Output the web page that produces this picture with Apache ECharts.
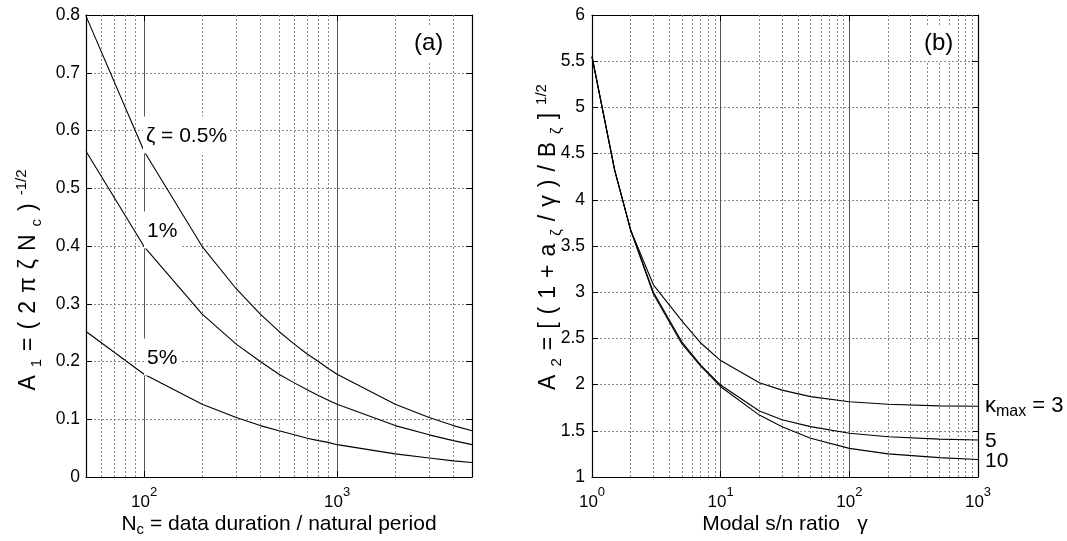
<!DOCTYPE html>
<html><head><meta charset="utf-8">
<script src="https://cdn.jsdelivr.net/npm/echarts@6/dist/echarts.min.js"></script>
<style>html,body{margin:0;padding:0;background:#fff}#c{width:1067px;height:541px}</style>
</head><body><div id="c"></div>
<script>
const FONT = '"Liberation Sans", Arial, Helvetica, sans-serif';

// ---- Panel (a): A1 vs Nc ----
const nCycles = [50, 100, 200, 300, 400, 500, 600, 700, 800, 900, 1000, 2000, 3000, 4000, 5000];
const a1Zeta05 = [0.798, 0.564, 0.399, 0.326, 0.282, 0.252, 0.230, 0.213, 0.200, 0.188, 0.178, 0.126, 0.103, 0.089, 0.080];
const a1Zeta1  = [0.564, 0.399, 0.282, 0.230, 0.200, 0.178, 0.163, 0.151, 0.141, 0.133, 0.126, 0.089, 0.073, 0.063, 0.056];
const a1Zeta5  = [0.252, 0.178, 0.126, 0.103, 0.089, 0.080, 0.073, 0.067, 0.063, 0.060, 0.056, 0.040, 0.033, 0.028, 0.025];
const aMinorGridX = [60, 70, 80, 90, 200, 300, 400, 500, 600, 700, 800, 900, 2000, 3000, 4000];

// ---- Panel (b): A2 vs gamma ----
const gammaVals = [1, 1.5, 2, 3, 5, 7, 10, 20, 30, 50, 100, 200, 500, 1000];
const a2Kappa3  = [5.55, 4.32, 3.67, 3.08, 2.69, 2.45, 2.26, 2.02, 1.94, 1.87, 1.815, 1.787, 1.77, 1.765];
const a2Kappa5  = [5.55, 4.32, 3.67, 3.00, 2.46, 2.21, 1.995, 1.714, 1.62, 1.545, 1.473, 1.436, 1.41, 1.40];
const a2Kappa10 = [5.55, 4.32, 3.67, 2.98, 2.44, 2.20, 1.977, 1.67, 1.545, 1.42, 1.31, 1.25, 1.21, 1.19];
const bMinorGridX = [2, 3, 4, 5, 6, 7, 8, 9, 20, 30, 40, 50, 60, 70, 80, 90, 200, 300, 400, 500, 600, 700, 800, 900];

const pairs = (xs, ys) => xs.map((x, i) => [x, ys[i]]);

function logLabel(v) {
  const e = Math.round(Math.log10(v));
  if (Math.abs(Math.pow(10, e) - v) > 1e-6 * v) return '';
  return '10{sup|' + e + '}';
}

const tickStyle = { show: true, inside: true, length: 6, lineStyle: { color: '#000', width: 1 } };
const lineStyleAxis = { show: true, onZero: false, lineStyle: { color: '#000', width: 1.2 } };
const hGrid = { show: true, lineStyle: { color: '#8a8a8a', width: 1, type: [2, 2] } };
const vMajor = { show: true, lineStyle: { color: '#555', width: 1, type: 'solid' } };
const richSup = { sup: { fontSize: 13, fontFamily: FONT, verticalAlign: 'top', lineHeight: 13, color: '#000' } };

function xMain(grid, min, max, name, nameRich) {
  return {
    type: 'log', logBase: 10, gridIndex: grid, min: min, max: max, position: 'bottom',
    axisLine: lineStyleAxis, axisTick: tickStyle,
    axisLabel: { formatter: logLabel, fontSize: 17, fontFamily: FONT, color: '#000', margin: 9, lineHeight: 32, rich: richSup },
    splitLine: vMajor,
    name: name, nameLocation: 'middle', nameGap: 34, nameMoveOverlap: false,
    nameTextStyle: { fontSize: 21, fontFamily: FONT, color: '#000', lineHeight: 26, verticalAlign: 'top', rich: nameRich }
  };
}
function xTop(grid, min, max) {
  return { type: 'log', logBase: 10, gridIndex: grid, min: min, max: max, position: 'top',
    axisLine: lineStyleAxis, axisTick: tickStyle, axisLabel: { show: false }, splitLine: { show: false } };
}
function yMain(grid, min, max, interval, margin) {
  return { type: 'value', gridIndex: grid, min: min, max: max, interval: interval, position: 'left',
    axisLine: lineStyleAxis, axisTick: tickStyle,
    axisLabel: { fontSize: 17.5, fontFamily: FONT, color: '#000', margin: margin },
    splitLine: hGrid };
}
function yRight(grid, min, max, interval) {
  return { type: 'value', gridIndex: grid, min: min, max: max, interval: interval, position: 'right',
    axisLine: lineStyleAxis, axisTick: tickStyle, axisLabel: { show: false }, splitLine: { show: false } };
}
function curve(xi, yi, data, extra) {
  return Object.assign({ type: 'line', xAxisIndex: xi, yAxisIndex: yi, data: data, showSymbol: false, symbol: 'none',
    smooth: false, silent: true, animation: false, z: 5,
    lineStyle: { color: '#000', width: 1.1 } }, extra || {});
}
function minorLines(vals) {
  return { silent: true, symbol: ['none', 'none'], animation: false, label: { show: false },
    lineStyle: { color: '#8a8a8a', width: 1, type: [2, 2] }, emphasis: { disabled: true },
    data: vals.map(v => ({ xAxis: v })) };
}

const subRich = { fontSize: 15, fontFamily: FONT, verticalAlign: 'bottom', lineHeight: 15, color: '#000' };
const supRich = { fontSize: 15, fontFamily: FONT, verticalAlign: 'top', lineHeight: 15, color: '#000' };

// spaced rich-text tokens for the rotated axis titles
const PAD = 4;
const spacedRich = {
  g: { fontSize: 23, fontFamily: FONT, lineHeight: 30, padding: [0, PAD, 0, PAD], color: '#000' },
  s: { fontSize: 15, fontFamily: FONT, lineHeight: 15, verticalAlign: 'bottom', padding: [0, PAD, 0, PAD], color: '#000' },
  p: { fontSize: 15, fontFamily: FONT, lineHeight: 15, verticalAlign: 'top', padding: [0, PAD, 0, PAD], color: '#000' }
};
function spaced(tokens) { return tokens.map(t => '{' + t[0] + '|' + t[1] + '}').join(''); }

function txt(x, y, text, opts) {
  const o = opts || {};
  const fs = o.fontSize || 21;
  return { type: 'text', x: x, y: y, z: 100, rotation: o.rotation || 0,
    style: Object.assign({ text: text, fontSize: fs, fontFamily: FONT, fill: '#000',
      align: o.align || 'left', textAlign: o.align || 'left', verticalAlign: 'middle', textVerticalAlign: 'middle',
      lineHeight: o.lineHeight || 24,
      rich: o.rich || { sub: subRich, sup: supRich } },
      o.bg ? { backgroundColor: '#fff', padding: o.padding || [8, 3, 5, 3] } : {}) };
}

const yTitleA = spaced([['g', 'A'], ['s', '1'], ['g', '='], ['g', '('], ['g', '2'], ['g', 'π'], ['g', 'ζ'], ['g', 'N'], ['s', 'c'], ['g', ')'], ['p', '-1/2']]);
const yTitleB = spaced([['g', 'A'], ['s', '2'], ['g', '='], ['g', '['], ['g', '('], ['g', '1'], ['g', '+'], ['g', 'a'], ['s', 'ζ'], ['g', '/'], ['g', 'γ'], ['g', ')'], ['g', '/'], ['g', 'B'], ['s', 'ζ'], ['g', ']'], ['p', '1/2']]);

const option = {
  animation: false,
  backgroundColor: '#fff',
  grid: [
    { left: 86, right: 1067 - 472, top: 15, bottom: 541 - 477, containLabel: false, outerBoundsMode: 'none' },
    { left: 592, right: 1067 - 978, top: 15, bottom: 541 - 477, containLabel: false, outerBoundsMode: 'none' }
  ],
  xAxis: [
    xMain(0, 50, 5000, 'N{sub|c} = data duration / natural period', { sub: subRich }),
    xTop(0, 50, 5000),
    xMain(1, 1, 1000, 'Modal s/n ratio   γ', {}),
    xTop(1, 1, 1000)
  ],
  yAxis: [
    yMain(0, 0, 0.8, 0.1, 6),
    yRight(0, 0, 0.8, 0.1),
    yMain(1, 1, 6, 0.5, 7),
    yRight(1, 1, 6, 0.5)
  ],
  series: [
    curve(0, 0, pairs(nCycles, a1Zeta05), { markLine: minorLines(aMinorGridX) }),
    curve(0, 0, pairs(nCycles, a1Zeta1)),
    curve(0, 0, pairs(nCycles, a1Zeta5)),
    curve(2, 2, pairs(gammaVals, a2Kappa3), { markLine: minorLines(bMinorGridX) }),
    curve(2, 2, pairs(gammaVals, a2Kappa5)),
    curve(2, 2, pairs(gammaVals, a2Kappa10))
  ],
  graphic: [
    txt(29, 280, yTitleA, { align: 'center', rotation: Math.PI / 2, lineHeight: 30, rich: spacedRich }),
    txt(549, 237, yTitleB, { align: 'center', rotation: Math.PI / 2, lineHeight: 30, rich: spacedRich }),
    txt(143, 135, 'ζ = 0.5%', { bg: true }),
    txt(144, 230, '1%', { bg: true }),
    txt(144, 357, '5%', { bg: true }),
    txt(411, 43, '(a)', { bg: true, fontSize: 24, padding: [6, 3, 6, 3] }),
    txt(921, 43, '(b)', { bg: true, fontSize: 24, padding: [6, 3, 6, 3] }),
    txt(985, 406, 'κ{sub|max} = 3', { fontSize: 22, lineHeight: 28, rich: { sub: { fontSize: 16, fontFamily: FONT, verticalAlign: 'bottom', lineHeight: 16 } } }),
    txt(985, 441, '5', { fontSize: 21 }),
    txt(985, 461, '10', { fontSize: 21 })
  ]
};

const chart = echarts.init(document.getElementById('c'), null, { renderer: 'canvas' });
chart.setOption(option);
</script>
</body></html>
